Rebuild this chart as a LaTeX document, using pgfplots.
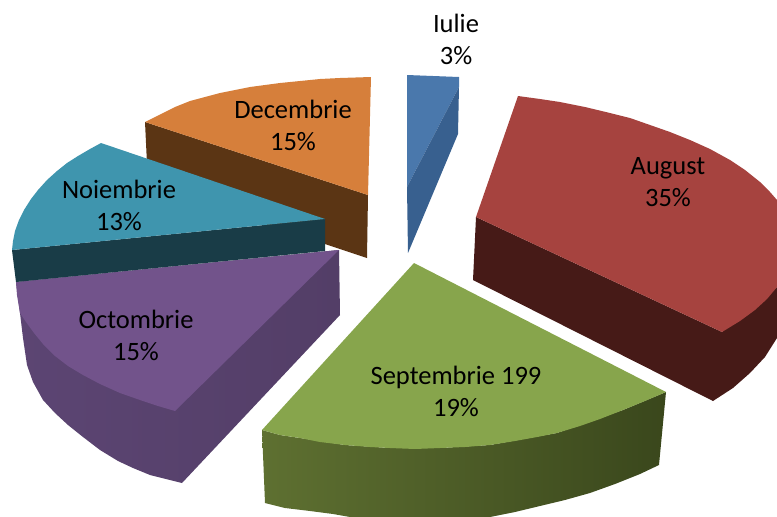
\documentclass[border=0pt]{standalone}
\usepackage{pgfplots}
\pgfplotsset{compat=1.18}
\usepackage{fontspec}
\setmainfont{Carlito}
\definecolor{iuT}{HTML}{4A78AC}
\definecolor{iuS}{HTML}{38608F}
\definecolor{auT}{HTML}{A6433F}
\definecolor{auS}{HTML}{461A17}
\definecolor{seT}{HTML}{87A54C}
\definecolor{seA}{HTML}{5E7031}
\definecolor{seM}{HTML}{414F21}
\definecolor{seB}{HTML}{3A471C}
\definecolor{ocT}{HTML}{72538B}
\definecolor{ocA}{HTML}{5C4573}
\definecolor{ocB}{HTML}{533E67}
\definecolor{noT}{HTML}{3F95AE}
\definecolor{noS}{HTML}{193C47}
\definecolor{deT}{HTML}{D67F3B}
\definecolor{deS}{HTML}{5B3514}
\begin{document}
\begin{tikzpicture}
\begin{axis}[
  width=777pt, height=517pt, scale only axis,
  xmin=0, xmax=777, ymin=0, ymax=517, y dir=reverse,
  hide axis, clip=true,
  every axis plot/.append style={draw=none, mark=none}
]
% invisible frame
\addplot[draw=none, forget plot] coordinates {(0,0) (777,517)};
% Iulie
\addplot[fill=iuT] coordinates {(407,75) (459,77) (459,87) (407,187)} --cycle;
\addplot[fill=iuS] coordinates {(459,87) (458,134) (408,253) (407,187)} --cycle;
% August
\addplot[fill=auS] coordinates {(476,217) (722,332) (777,287) (777,338) (765,357) (750,373) (733,388) (713,401) (473,280)} --cycle;
\addplot[fill=auT] coordinates {(518,96) (540,99) (560,102) (585,107) (610,113) (630,118) (650,125) (670,132) (690,140) (710,149) (730,160) (745,170) (760,182) (770,192) (777,200) (777,287) (767,299) (755,310) (740,321) (722,332) (476,217)} --cycle;
% Septembrie
\addplot[left color=seA, middle color=seM, right color=seB] coordinates {(262,430) (280,435) (300,438) (345,445) (390,448) (440,448) (490,445) (557,433) (623,410) (666,392) (659,465) (640,474) (615,484) (590,493) (565,500) (540,506) (515,512) (490,517) (350,517) (333,514) (310,511) (285,508) (265,503)} --cycle;
\addplot[fill=seT] coordinates {(414,263) (666,392) (645,401) (623,410) (600,419) (580,426) (557,433) (537,437) (515,441) (490,445) (465,447) (440,448) (415,449) (390,448) (370,447) (345,445) (320,442) (300,438) (280,435) (262,430)} --cycle;
% Decembrie
\addplot[fill=deS] coordinates {(145,122) (368,195) (367,258) (148,185)} --cycle;
\addplot[fill=deT] coordinates {(145,122) (155,117) (165,112) (175,107) (190,101) (205,97) (220,93) (235,90) (250,87) (265,85) (280,83) (300,81) (320,79) (340,78) (371,77) (368,195)} --cycle;
% Octombrie
\addplot[left color=ocA, right color=ocB] coordinates {(16,282) (339,250) (340,315) (182,483) (150,475) (133,468) (118,461) (100,450) (83,437) (68,425) (55,413) (43,400) (33,382) (27,365) (23,338) (20,313)} --cycle;
\addplot[fill=ocT] coordinates {(16,282) (339,250) (175,411) (158,406) (140,400) (120,393) (100,384) (83,375) (68,366) (55,356) (43,344) (34,333) (26,322) (20,313) (17,295)} --cycle;
% Noiembrie
\addplot[fill=noS] coordinates {(12,250) (325,219) (325,251) (16,282)} --cycle;
\addplot[fill=noT] coordinates {(325,219) (101,143) (90,149) (78,156) (67,163) (57,171) (47,180) (38,190) (31,199) (24,210) (19,220) (15,231) (13,241) (12,250)} --cycle;
% labels
\tikzset{lab/.style={font=\fontsize{26.5}{32}\selectfont, align=center, text=black, inner sep=0pt}}
\node[lab] at (axis cs:456,39) {Iulie\\3\%};
\node[lab] at (axis cs:668,182) {August\\35\%};
\node[lab] at (axis cs:456,391) {Septembrie 199\\19\%};
\node[lab] at (axis cs:136,335) {Octombrie\\15\%};
\node[lab] at (axis cs:119,205) {Noiembrie\\13\%};
\node[lab] at (axis cs:293,125) {Decembrie\\15\%};
\end{axis}
\end{tikzpicture}
\end{document}
